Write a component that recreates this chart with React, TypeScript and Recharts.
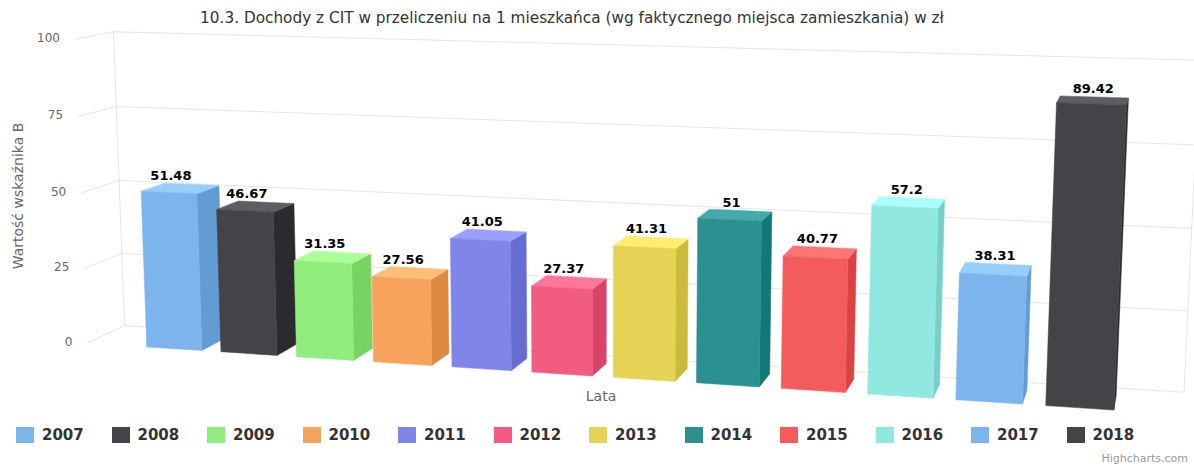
import React from 'react';
import { BarChart, Bar, XAxis, YAxis, CartesianGrid, Legend, LabelList } from 'recharts';

const years = ['2007', '2008', '2009', '2010', '2011', '2012', '2013', '2014', '2015', '2016', '2017', '2018'];
const values = [51.48, 46.67, 31.35, 27.56, 41.05, 27.37, 41.31, 51, 40.77, 57.2, 38.31, 89.42];
const colors = ['#7cb5ec', '#434348', '#90ed7d', '#f7a35c', '#8085e9', '#f15c80', '#e4d354', '#2b908f', '#f45b5b', '#91e8e1', '#7cb5ec', '#434348'];
const yTicks = [0, 25, 50, 75, 100];

const data = [{ name: '', ...Object.fromEntries(years.map((y, i) => [y, values[i]])) }];

const W = 1194;
const H = 466;
const margin = { top: 53, right: 22, bottom: 85, left: 27 };
const yAxisW = 1;
const plotLeft = margin.left + yAxisW;
const plotW = W - plotLeft - margin.right;
const plotH = H - margin.top - margin.bottom;
const plotTop = margin.top;
const plotBottom = margin.top + plotH;
const cx = plotLeft + plotW / 2;
const cy = margin.top + plotH / 2;

// 3d view (roughly what highcharts options3d gives)
const rad = Math.PI / 180;
const alpha = 10 * rad;
const beta = 15 * rad;
const viewDist = 2240;
const wallDepth = 87;
const barDepth = 55;
const sa = Math.sin(alpha), ca = Math.cos(alpha), sb = Math.sin(beta), cb = Math.cos(beta);

function project(px: number, py: number, z: number): [number, number] {
  const X = px - cx;
  const Y = py - cy;
  const xr = cb * X + sb * z;
  const yr = sa * sb * X + ca * Y - cb * sa * z;
  const zr = -ca * sb * X + sa * Y + ca * cb * z;
  const p = viewDist / (viewDist + zr);
  return [cx + xr * p, cy + yr * p];
}

const pts = (arr: [number, number][]) => arr.map((p) => `${p[0].toFixed(2)},${p[1].toFixed(2)}`).join(' ');

function brighten(hex: string, k: number) {
  const n = parseInt(hex.slice(1), 16);
  const c = [(n >> 16) & 255, (n >> 8) & 255, n & 255].map((v) => Math.max(0, Math.min(255, Math.round(v + k * 255))));
  return `rgb(${c[0]},${c[1]},${c[2]})`;
}

function Bar3D(props: any) {
  const { x, y, width, height, fill } = props;
  if (!height || height <= 0) return null;
  const x1 = x + width;
  const yb = y + height;
  const f: [number, number][] = [project(x, y, 0), project(x1, y, 0), project(x1, yb, 0), project(x, yb, 0)];
  const b: [number, number][] = [project(x, y, barDepth), project(x1, y, barDepth), project(x1, yb, barDepth), project(x, yb, barDepth)];
  return (
    <g>
      <polygon points={pts([f[1], b[1], b[2], f[2]])} fill={brighten(fill, -0.1)} stroke={brighten(fill, -0.1)} strokeWidth={0.5} />
      <polygon points={pts([f[0], f[1], b[1], b[0]])} fill={brighten(fill, 0.1)} stroke={brighten(fill, 0.1)} strokeWidth={0.5} />
      <polygon points={pts(f)} fill={fill} stroke={fill} strokeWidth={0.5} />
    </g>
  );
}

function GridLine3D(props: any) {
  const { x1, x2, y1 } = props;
  const fl = project(x1, y1, 0);
  const bl = project(x1, y1, wallDepth);
  const br = project(x2, y1, wallDepth);
  const isBottom = Math.abs(y1 - plotBottom) < 0.5;
  const tl = project(x1, plotTop, wallDepth);
  const tr = project(x2, plotTop, wallDepth);
  return (
    <g>
      <polyline points={pts([fl, bl, br])} fill="none" stroke="#e6e6e6" strokeWidth={1} />
      {isBottom && (
        <>
          <line x1={bl[0]} y1={bl[1]} x2={tl[0]} y2={tl[1]} stroke="#e6e6e6" />
          <line x1={br[0]} y1={br[1]} x2={tr[0]} y2={tr[1]} stroke="#e6e6e6" />
        </>
      )}
    </g>
  );
}

function YTick3D(props: any) {
  const { y, payload } = props;
  const p = project(plotLeft, y, 0);
  return (
    <text x={p[0] - 15} y={p[1] + 3} textAnchor="end" fontSize={12} fill="#666">
      {payload.value}
    </text>
  );
}

function DataLabel3D(props: any) {
  const { x, y, width, value } = props;
  const front = project(x + width / 2, y, 0);
  const back = project(x + width / 2, y, barDepth);
  return (
    <text x={front[0] + 2} y={back[1] - 4} textAnchor="middle" fontSize={13} fontWeight="bold" fill="#000"
      stroke="#fff" strokeWidth={2} strokeLinejoin="round" paintOrder="stroke">
      {value}
    </text>
  );
}

function LegendContent(props: any) {
  const { payload = [] } = props;
  return (
    <div style={{ position: 'relative', width: W, height: 18 }}>
      {payload.map((e: any, i: number) => (
        <div key={e.value} style={{ position: 'absolute', left: 16 + i * 95.5, top: 0, display: 'flex', alignItems: 'center', height: 16 }}>
          <span style={{ display: 'inline-block', width: 18, height: 16, background: e.color, marginRight: 8 }} />
          <span style={{ fontWeight: 'bold', fontSize: 15, color: '#333' }}>{e.value}</span>
        </div>
      ))}
    </div>
  );
}

export default function App() {
  return (
    <div style={{ position: 'absolute', left: 0, top: 0, width: W, height: H, background: '#fff', fontFamily: '"DejaVu Sans", sans-serif' }}>
      <div style={{ position: 'absolute', left: 0, top: 8, width: 1144, textAlign: 'center', fontSize: 15.3, lineHeight: '20px', color: '#333' }}>
        10.3. Dochody z CIT w przeliczeniu na 1 mieszkańca (wg faktycznego miejsca zamieszkania) w zł
      </div>
      <div style={{ position: 'absolute', left: 18, top: 196, transform: 'translate(-50%, -50%) rotate(-90deg)', whiteSpace: 'nowrap', fontSize: 14, color: '#666' }}>
        Wartość wskaźnika B
      </div>
      <div style={{ position: 'absolute', left: 601, top: 396, transform: 'translate(-50%, -50%)', fontSize: 14, color: '#666' }}>
        Lata
      </div>
      <BarChart width={W} height={H} data={data} margin={margin} barCategoryGap={60} barGap={22}>
        <CartesianGrid vertical={false} horizontal={(p: any) => <GridLine3D key={p.key} {...p} />} />
        <XAxis dataKey="name" hide padding={{ left: 10, right: 0 }} />
        <YAxis domain={[0, 100]} ticks={yTicks} width={yAxisW} axisLine={false} tickLine={false}
          tick={(p: any) => <YTick3D key={p.index} {...p} />} />
        <Legend layout="horizontal" verticalAlign="middle" align="center" wrapperStyle={{ top: 427, left: 0, width: W }} content={<LegendContent />} />
        {years.map((yr, i) => (
          <Bar key={yr} dataKey={yr} fill={colors[i]} isAnimationActive={false} shape={(p: any) => <Bar3D {...p} />}>
            <LabelList dataKey={yr} content={(p: any) => <DataLabel3D {...p} />} />
          </Bar>
        ))}
      </BarChart>
      <div style={{ position: 'absolute', right: 6, top: 452, fontSize: 11, color: '#999' }}>Highcharts.com</div>
    </div>
  );
}
